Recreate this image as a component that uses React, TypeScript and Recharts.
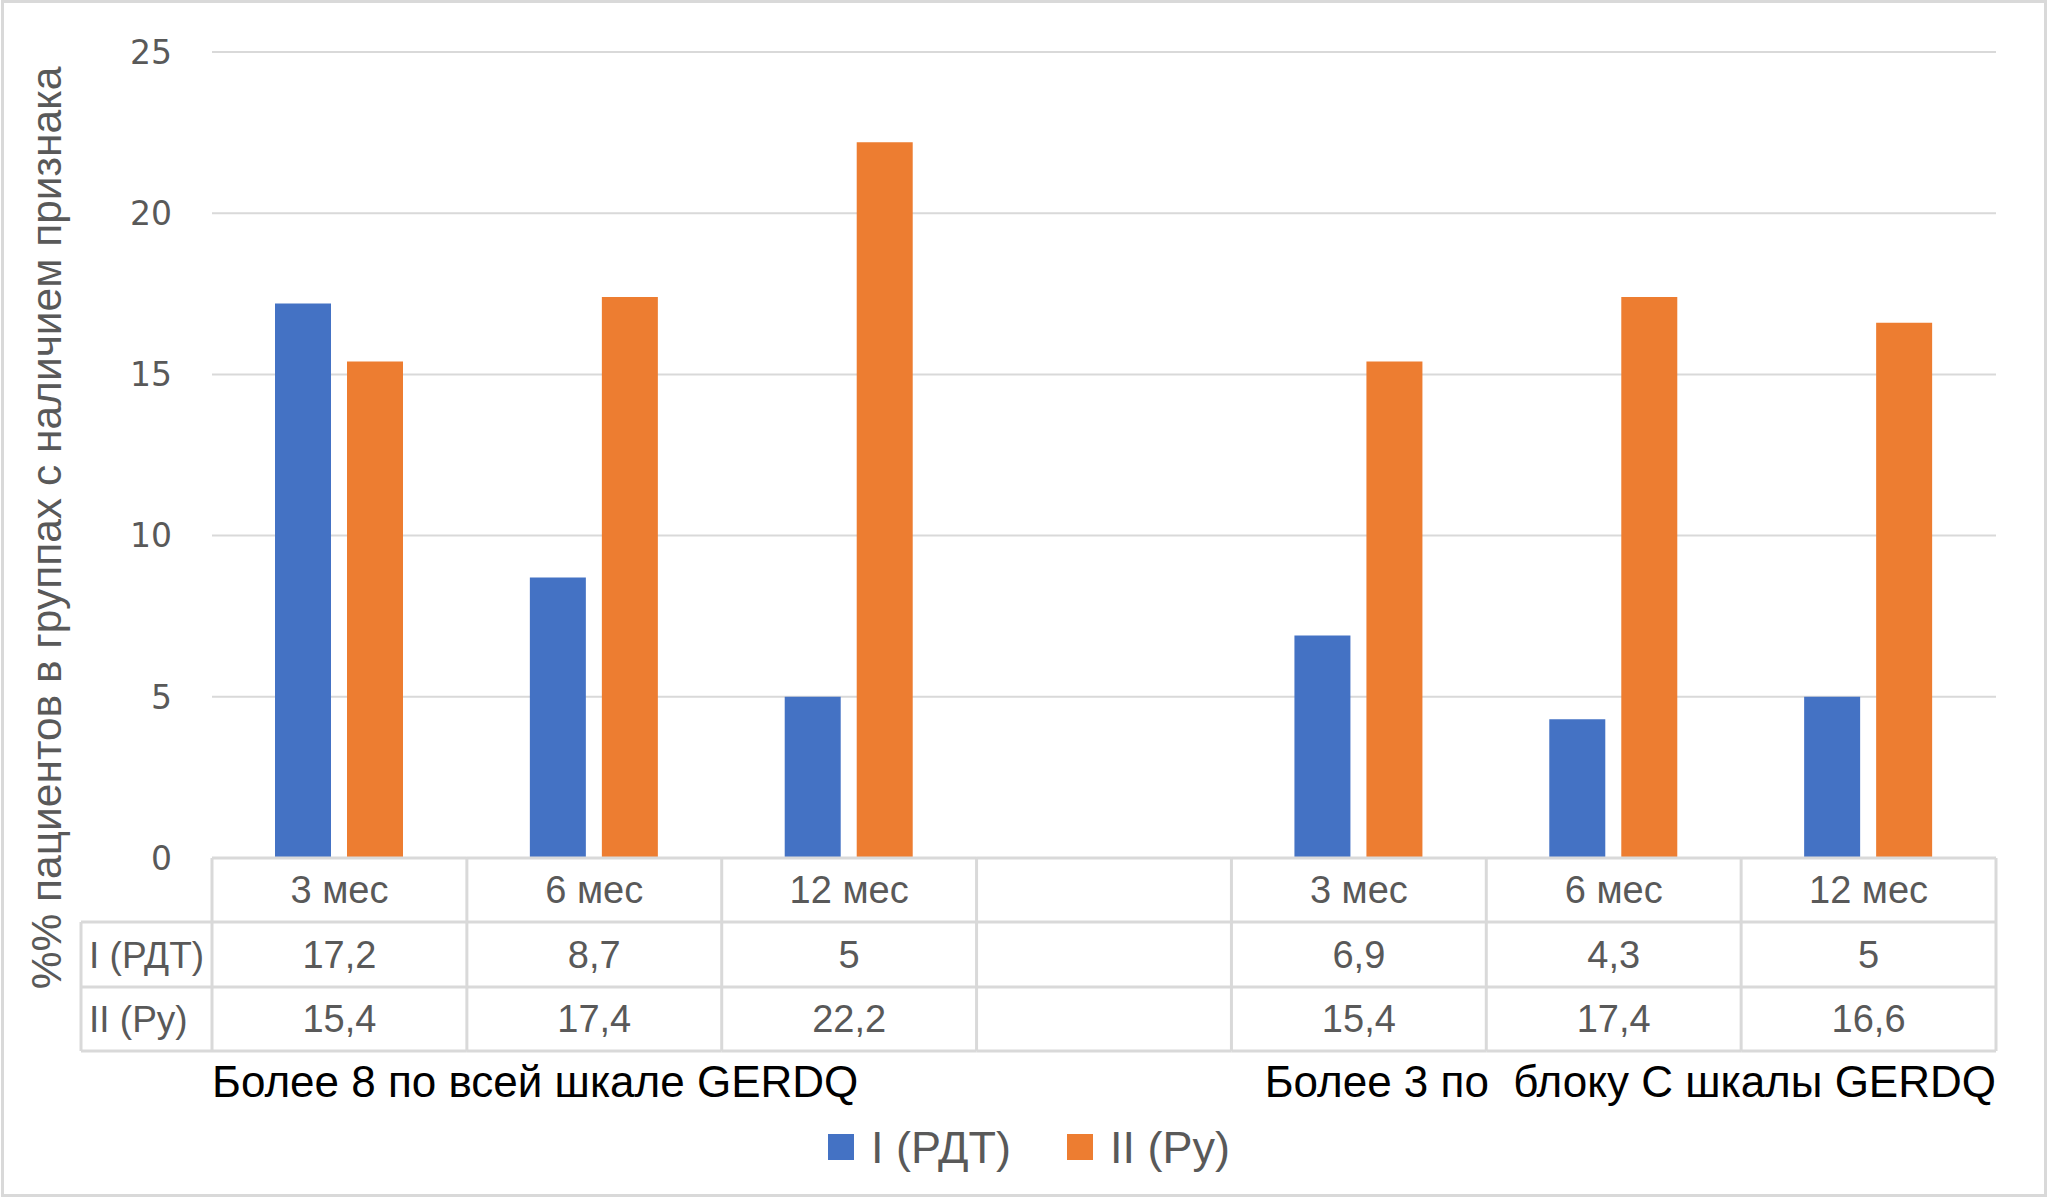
import React from 'react';
import { BarChart, Bar, XAxis, YAxis, CartesianGrid, Legend } from 'recharts';

const categories = ['3 мес', '6 мес', '12 мес', '', '3 мес', '6 мес', '12 мес'];
const seriesI = [17.2, 8.7, 5, null, 6.9, 4.3, 5];
const seriesII = [15.4, 17.4, 22.2, null, 15.4, 17.4, 16.6];
const seriesNames = ['I (РДТ)', 'II (Ру)'];
const groupLabels = ['Более 8 по всей шкале GERDQ', 'Более 3 по  блоку С шкалы GERDQ'];
const yTicks = [0, 5, 10, 15, 20, 25];
const yLabel = '%% пациентов в группах с наличием признака';

const data = categories.map((name, i) => ({ name, a: seriesI[i], b: seriesII[i] }));

const W = 2048;
const H = 1200;
const PLOT_LEFT = 212;
const PLOT_RIGHT = 52;
const CELL_W = (W - PLOT_LEFT - PLOT_RIGHT) / categories.length;
const LINE = '#d9d9d9';
const TEXT = '#595959';
const FONT = '"Liberation Sans", Arial, sans-serif';

const fmt = (v: number | null) => (v == null ? '' : String(v).replace('.', ','));

const TableTick = (props: any) => {
  const { x, y, index, payload } = props;
  const left = x - CELL_W / 2;
  const right = x + CELL_W / 2;
  const rows = [64, 129, 193];
  const last = index === categories.length - 1;
  return (
    <g>
      <line x1={left} y1={y} x2={right} y2={y} stroke={LINE} strokeWidth={3} />
      {rows.map((r) => (
        <line key={r} x1={index === 0 ? 81 : left} y1={y + r} x2={right} y2={y + r} stroke={LINE} strokeWidth={3} />
      ))}
      <line x1={left} y1={y} x2={left} y2={y + 193} stroke={LINE} strokeWidth={3} />
      {last && <line x1={right} y1={y} x2={right} y2={y + 193} stroke={LINE} strokeWidth={3} />}
      <text x={x} y={y + 32} textAnchor="middle" dominantBaseline="central" fill={TEXT} fontSize={38} fontFamily={FONT}>
        {payload.value}
      </text>
      <text x={x} y={y + 97} textAnchor="middle" dominantBaseline="central" fill={TEXT} fontSize={38} fontFamily={FONT}>
        {fmt(seriesI[index])}
      </text>
      <text x={x} y={y + 161} textAnchor="middle" dominantBaseline="central" fill={TEXT} fontSize={38} fontFamily={FONT}>
        {fmt(seriesII[index])}
      </text>
      {index === 0 && (
        <g>
          <line x1={81} y1={y + 64} x2={81} y2={y + 193} stroke={LINE} strokeWidth={3} />
          <text x={89} y={y + 97} dominantBaseline="central" fill={TEXT} fontSize={37} fontFamily={FONT}>
            {seriesNames[0]}
          </text>
          <text x={89} y={y + 161} dominantBaseline="central" fill={TEXT} fontSize={37} fontFamily={FONT}>
            {seriesNames[1]}
          </text>
          <text x={left} y={y + 223} dominantBaseline="central" fill="#000" fontSize={44} fontFamily={FONT} style={{ whiteSpace: 'pre' }}>
            {groupLabels[0]}
          </text>
        </g>
      )}
      {last && (
        <text x={right} y={y + 223} textAnchor="end" dominantBaseline="central" fill="#000" fontSize={44} fontFamily={FONT} style={{ whiteSpace: 'pre' }}>
          {groupLabels[1]}
        </text>
      )}
    </g>
  );
};

const renderLegend = (props: any) => (
  <div style={{ display: 'flex', justifyContent: 'center', alignItems: 'center', height: 54, paddingLeft: 10 }}>
    {(props.payload || []).map((e: any, i: number) => (
      <div key={i} style={{ display: 'flex', alignItems: 'center', marginRight: i === 0 ? 56 : 0 }}>
        <div style={{ width: 26, height: 26, background: e.color, marginRight: 17 }} />
        <span style={{ fontSize: 45, color: TEXT, fontFamily: FONT, lineHeight: 1 }}>{e.value}</span>
      </div>
    ))}
  </div>
);

const YLabel = () => (
  <text
    x={46}
    y={528}
    transform="rotate(-90 46 528)"
    textAnchor="middle"
    dominantBaseline="central"
    fill={TEXT}
    fontSize={42.5}
    fontFamily={FONT}
  >
    {yLabel}
  </text>
);

export default function App() {
  return (
    <div style={{ position: 'absolute', left: 0, top: 0, width: W, height: H, background: '#fff', fontFamily: FONT }}>
      <BarChart
        width={W}
        height={H}
        data={data}
        barGap={16}
        margin={{ top: 52, right: PLOT_RIGHT, left: 112, bottom: 42 }}
      >
        <CartesianGrid vertical={false} stroke={LINE} strokeWidth={2} />
        <XAxis
          dataKey="name"
          interval={0}
          height={300}
          axisLine={false}
          tickLine={false}
          tickSize={0}
          tickMargin={0}
          tick={<TableTick />}
        />
        <YAxis
          width={100}
          domain={[0, 25]}
          ticks={yTicks}
          axisLine={false}
          tickLine={false}
          tickSize={6}
          tickMargin={34}
          tick={{ fill: TEXT, fontSize: 33, fontFamily: '"DejaVu Sans", sans-serif' }}
          label={<YLabel />}
        />
        <Legend
          layout="horizontal"
          verticalAlign="middle"
          align="center"
          content={renderLegend}
          wrapperStyle={{ left: 0, top: 1120, width: W }}
        />
        <Bar dataKey="a" name={seriesNames[0]} fill="#4472C4" barSize={56} isAnimationActive={false} />
        <Bar dataKey="b" name={seriesNames[1]} fill="#ED7D31" barSize={56} isAnimationActive={false} />
      </BarChart>
      <div
        style={{
          position: 'absolute',
          left: 1,
          top: 0,
          width: 2046,
          height: 1197,
          border: `3px solid ${LINE}`,
          boxSizing: 'border-box',
          pointerEvents: 'none',
        }}
      />
    </div>
  );
}
